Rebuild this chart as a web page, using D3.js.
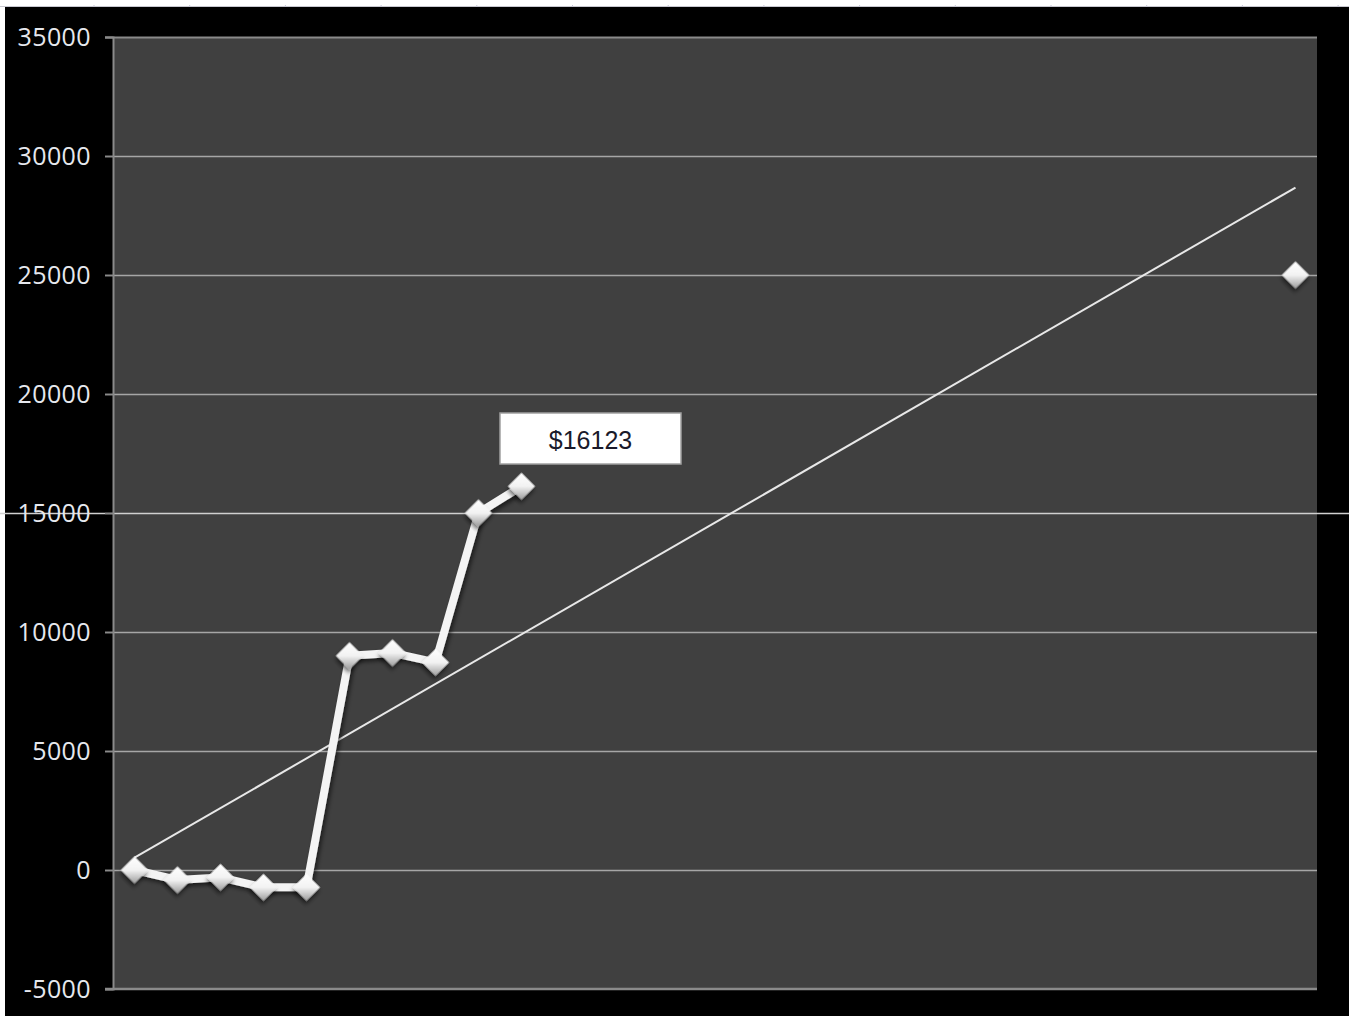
<!DOCTYPE html>
<html>
<head>
<meta charset="utf-8">
<script src="https://cdn.jsdelivr.net/npm/d3@7"></script>
<style>
  html, body { margin: 0; padding: 0; background: #ffffff; }
  svg { display: block; }
</style>
</head>
<body>
<svg id="chart" width="1349" height="1016"></svg>
<script>
// chart data
const categories = d3.range(1, 29).map(String);            // 28 slots on the hidden x axis
const balance = [0, -420, -310, -730, -730, 9000, 9120, 8720, 15000, 16123];
const goalIndex = 27;
const goalValue = 25000;
const yTicks = [-5000, 0, 5000, 10000, 15000, 20000, 25000, 30000, 35000];
const calloutText = '$16123';

const drawChart = (svgElement) => {
    const width = 1349, height = 1016;
    const plot = { left: 113, right: 1317, top: 37, bottom: 989 };

    const svg = d3.select(svgElement);
    svg.selectAll('*').remove();

    const defs = svg.append('defs');
    const grad = defs.append('linearGradient')
        .attr('id', 'diamondFill')
        .attr('x1', '0').attr('y1', '0').attr('x2', '1').attr('y2', '1');
    grad.append('stop').attr('offset', '0%').attr('stop-color', '#ffffff');
    grad.append('stop').attr('offset', '50%').attr('stop-color', '#f2f2f2');
    grad.append('stop').attr('offset', '100%').attr('stop-color', '#9c9c9c');

    const shadow = defs.append('filter').attr('id', 'shadow')
        .attr('x', '-30%').attr('y', '-30%').attr('width', '160%').attr('height', '160%');
    shadow.append('feDropShadow')
        .attr('dx', 2).attr('dy', 3).attr('stdDeviation', 2)
        .attr('flood-color', '#000').attr('flood-opacity', 0.55);

    // --- 1. backgrounds (screenshot frame, black chart area, grey plot) ---
    svg.append('rect').attr('width', width).attr('height', height).attr('fill', '#ffffff');
    svg.append('rect').attr('x', 5).attr('y', 7).attr('width', width - 5).attr('height', height - 7).attr('fill', '#000000');
    svg.append('line')
        .attr('x1', 0).attr('x2', width).attr('y1', 6.5).attr('y2', 6.5)
        .attr('stroke', '#c8c8d0').attr('stroke-width', 1);
    d3.range(94, width, 95.7).forEach(x => {
        svg.append('line')
            .attr('x1', x).attr('x2', x).attr('y1', 5).attr('y2', 7)
            .attr('stroke', '#c8c8d8').attr('stroke-width', 1);
    });

    svg.append('rect')
        .attr('x', plot.left).attr('y', plot.top)
        .attr('width', plot.right - plot.left).attr('height', plot.bottom - plot.top)
        .attr('fill', '#404040');

    // --- 2. scales ---
    const x = d3.scaleBand()
        .domain(categories)
        .range([plot.left, plot.right]);

    const y = d3.scaleLinear()
        .domain([-5000, 35000])
        .range([plot.bottom, plot.top]);

    const cx = (i) => x(categories[i]) + x.bandwidth() / 2;

    // --- 3. gridlines ---
    svg.append('g').selectAll('line')
        .data(yTicks.filter(t => t !== -5000))
        .join('line')
        .attr('x1', d => d === 15000 ? 0 : plot.left - 8)
        .attr('x2', d => d === 15000 ? width : plot.right)
        .attr('y1', d => Math.round(y(d)) + 0.5)
        .attr('y2', d => Math.round(y(d)) + 0.5)
        .attr('stroke', d => d === 15000 ? '#d0d0d0' : (d === 35000 ? '#8a8a8a' : '#a6a6a6'))
        .attr('stroke-width', d => d === 35000 ? 2 : 1.3);

    // y axis (left) and bottom axis line
    const yAxis = d3.axisLeft(y).tickValues(yTicks).tickSize(8).tickPadding(14).tickFormat(d => String(d));
    const axisG = svg.append('g')
        .attr('transform', `translate(${plot.left},0)`)
        .call(yAxis);
    axisG.select('.domain').attr('stroke', '#8a8a8a').attr('stroke-width', 2);
    axisG.selectAll('.tick line').attr('stroke', '#8a8a8a').attr('stroke-width', 1.5);
    axisG.selectAll('.tick text')
        .attr('fill', '#e6e8ee')
        .style('font-family', '"Open Sans", "Noto Sans", sans-serif')
        .style('font-size', '25px')
        .style('letter-spacing', '0.4px');

    svg.append('line')
        .attr('x1', plot.left - 8).attr('x2', plot.right)
        .attr('y1', plot.bottom).attr('y2', plot.bottom)
        .attr('stroke', '#8a8a8a').attr('stroke-width', 2.5);

    // --- 4. linear trend line (least squares over all points) ---
    const pts = balance.map((v, i) => [i, v]).concat([[goalIndex, goalValue]]);
    const mx = d3.mean(pts, p => p[0]);
    const my = d3.mean(pts, p => p[1]);
    const slope = d3.sum(pts, p => (p[0] - mx) * (p[1] - my)) / d3.sum(pts, p => (p[0] - mx) ** 2);
    const intercept = my - slope * mx;

    svg.append('line')
        .attr('x1', cx(0)).attr('y1', y(intercept))
        .attr('x2', cx(goalIndex)).attr('y2', y(intercept + slope * goalIndex))
        .attr('stroke', '#e8e8e8').attr('stroke-width', 2);

    // --- 5. balance line ---
    const line = d3.line()
        .x((d, i) => cx(i))
        .y(d => y(d));

    svg.append('path')
        .datum(balance)
        .attr('d', line)
        .attr('fill', 'none')
        .attr('stroke', '#f4f4f4')
        .attr('stroke-width', 8)
        .attr('stroke-linejoin', 'round')
        .attr('filter', 'url(#shadow)');

    // --- 6. diamond markers ---
    const diamond = d3.symbol().type(d3.symbolSquare).size(370);
    const markers = balance.map((v, i) => ({ i, v })).concat([{ i: goalIndex, v: goalValue }]);

    svg.append('g').selectAll('path')
        .data(markers)
        .join('path')
        .attr('d', diamond)
        .attr('transform', d => `translate(${cx(d.i)},${y(d.v)}) rotate(45)`)
        .attr('fill', 'url(#diamondFill)')
        .attr('filter', 'url(#shadow)');

    // --- 7. callout box ---
    const box = { x: 500, y: 413, w: 181, h: 51 };
    svg.append('rect')
        .attr('x', box.x).attr('y', box.y).attr('width', box.w).attr('height', box.h)
        .attr('fill', '#ffffff').attr('stroke', '#a0a0a0').attr('stroke-width', 1.5);
    svg.append('text')
        .attr('x', box.x + box.w / 2).attr('y', box.y + box.h / 2 + 4)
        .attr('text-anchor', 'middle').attr('dominant-baseline', 'middle')
        .attr('fill', '#1a1a2a')
        .style('font-family', '"Liberation Sans", Arial, sans-serif')
        .style('font-size', '25px')
        .text(calloutText);
};

drawChart(document.getElementById('chart'));
</script>
</body>
</html>
